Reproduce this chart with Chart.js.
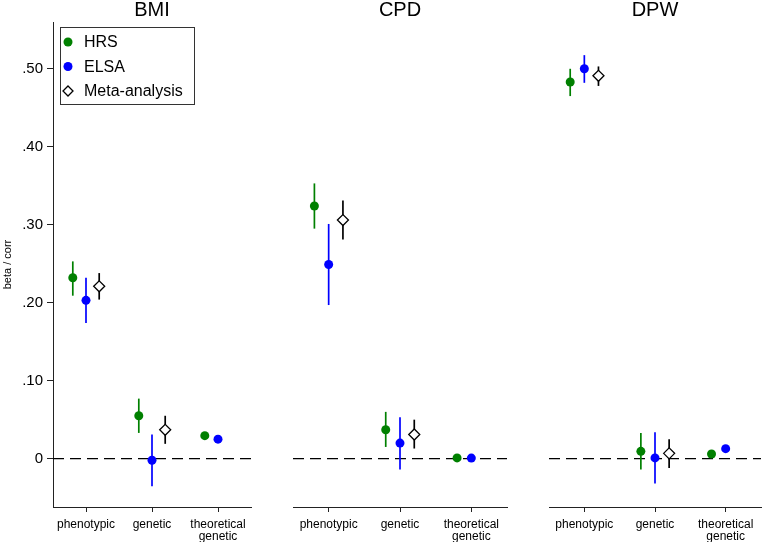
<!DOCTYPE html>
<html>
<head>
<meta charset="utf-8">
<script src="https://cdn.jsdelivr.net/npm/chart.js@4/dist/chart.umd.min.js"></script>
<style>
  body { margin: 0; background: #fff; }
  canvas { position: absolute; top: 0; }
</style>
</head>
<body>
<canvas id="bmi" width="262" height="542" style="left:0px"></canvas>
<canvas id="cpd" width="250" height="542" style="left:272px"></canvas>
<canvas id="dpw" width="230" height="542" style="left:532px"></canvas>
<script>
// tick labels on the x axis of every panel
const tickLabels = ["phenotypic", "genetic", ["theoretical", "genetic"]];
const yTicks = [0, 0.1, 0.2, 0.3, 0.4, 0.5];
const seriesNames = ["HRS", "ELSA", "Meta-analysis"];

// each row: [estimate, lower CI, upper CI] for phenotypic, genetic, theoretical genetic
const bmiHRS  = [[0.232, 0.209, 0.253], [0.055, 0.033, 0.077], [0.0295, null, null]];
const bmiELSA = [[0.203, 0.174, 0.232], [-0.002, -0.0355, 0.031], [0.025, null, null]];
const bmiMeta = [[0.221, 0.204, 0.238], [0.037, 0.019, 0.055], null];

const cpdHRS  = [[0.324, 0.295, 0.353], [0.037, 0.015, 0.060], [0.001, null, null]];
const cpdELSA = [[0.249, 0.197, 0.301], [0.020, -0.014, 0.053], [0.0007, null, null]];
const cpdMeta = [[0.306, 0.281, 0.331], [0.031, 0.013, 0.050], null];

const dpwHRS  = [[0.483, 0.465, 0.500], [0.0094, -0.014, 0.033], [0.006, null, null]];
const dpwELSA = [[0.500, 0.482, 0.5175], [0.001, -0.032, 0.034], [0.0128, null, null]];
const dpwMeta = [[0.491, 0.478, 0.503], [0.0068, -0.012, 0.025], null];

Chart.defaults.font.family = "'Liberation Sans', Arial, sans-serif";
Chart.defaults.color = "#000";

const colors = ["#008000", "#0000ff", "#000000"];
const shifts = [-0.2, 0, 0.2];

function toPoints(rows, shift) {
  const pts = [];
  rows.forEach((r, i) => {
    if (r && r[0] != null) pts.push({ x: i + 0.5 + shift, y: r[0], lo: r[1], hi: r[2] });
  });
  return pts;
}

// dashed zero line + confidence intervals, drawn under the markers
const errorBars = {
  id: "errorBars",
  beforeDatasetsDraw(chart) {
    const { ctx, chartArea, scales } = chart;
    const y0 = scales.y.getPixelForValue(0);
    ctx.save();
    ctx.strokeStyle = "#000";
    ctx.lineWidth = 1.3;
    ctx.setLineDash([11, 6]);
    ctx.beginPath();
    ctx.moveTo(chartArea.left, y0);
    ctx.lineTo(chartArea.right, y0);
    ctx.stroke();
    ctx.setLineDash([]);
    chart.data.datasets.forEach((ds) => {
      ctx.strokeStyle = ds.barColor;
      ctx.lineWidth = 1.7;
      ds.data.forEach((p) => {
        if (p.lo == null) return;
        const x = scales.x.getPixelForValue(p.x);
        ctx.beginPath();
        ctx.moveTo(x, scales.y.getPixelForValue(p.lo));
        ctx.lineTo(x, scales.y.getPixelForValue(p.hi));
        ctx.stroke();
      });
    });
    ctx.restore();
  }
};

// boxed legend inside the first panel
const boxLegend = {
  id: "boxLegend",
  afterDraw(chart) {
    const { ctx, chartArea } = chart;
    const left = chartArea.left + 7, top = chartArea.top + 5;
    ctx.save();
    ctx.strokeStyle = "#333";
    ctx.lineWidth = 1;
    ctx.strokeRect(left + 0.5, top + 0.5, 134, 77);
    ctx.font = "16px 'Liberation Sans', Arial, sans-serif";
    ctx.textBaseline = "middle";
    chart.data.datasets.forEach((ds, i) => {
      const y = top + 15 + i * 24.5;
      const x = left + 8;
      ctx.beginPath();
      if (ds.pointStyle === "rectRot") {
        ctx.moveTo(x, y - 5); ctx.lineTo(x + 5, y); ctx.lineTo(x, y + 5); ctx.lineTo(x - 5, y); ctx.closePath();
        ctx.fillStyle = "#fff"; ctx.fill();
        ctx.strokeStyle = "#000"; ctx.lineWidth = 1.3; ctx.stroke();
      } else {
        ctx.arc(x, y, 4.5, 0, Math.PI * 2);
        ctx.fillStyle = ds.backgroundColor; ctx.fill();
      }
      ctx.fillStyle = "#000";
      ctx.fillText(ds.label, left + 24, y + 1);
    });
    ctx.restore();
  }
};

function makePanel(id, title, series, showY, padLeft, padRight) {
  const datasets = series.map((rows, i) => ({
    label: seriesNames[i],
    data: toPoints(rows, shifts[i]),
    barColor: colors[i],
    backgroundColor: i === 2 ? "#fff" : colors[i],
    borderColor: colors[i],
    borderWidth: i === 2 ? 1.3 : 0,
    pointStyle: i === 2 ? "rectRot" : "circle",
    pointRadius: i === 2 ? 5.5 : 4.5
  }));

  return new Chart(document.getElementById(id), {
    type: "scatter",
    data: { datasets: datasets },
    plugins: showY ? [errorBars, boxLegend] : [errorBars],
    options: {
      responsive: false,
      animation: false,
      layout: { autoPadding: false, padding: { left: padLeft, right: padRight, top: 0, bottom: 0 } },
      plugins: {
        legend: { display: false },
        tooltip: { enabled: false },
        title: {
          display: true,
          text: title,
          fullSize: false,
          font: { size: 20, weight: "normal", lineHeight: 1 },
          padding: { top: 0, bottom: 2 },
          color: "#000"
        }
      },
      scales: {
        x: {
          type: "linear",
          min: 0,
          max: 3,
          afterBuildTicks: (s) => { s.ticks = [0.5, 1.5, 2.5].map((v) => ({ value: v })); },
          afterFit: (s) => { s.height = 35; },
          grid: { display: true, drawOnChartArea: false, drawTicks: true, tickLength: 5, color: "#222" },
          border: { display: true, color: "#222", width: 1 },
          ticks: {
            autoSkip: false,
            maxRotation: 0,
            padding: 6,
            font: { size: 12, lineHeight: 1.05 },
            callback: (v, i) => tickLabels[i]
          }
        },
        y: {
          display: showY,
          min: -0.062,
          max: 0.56,
          afterBuildTicks: (s) => { s.ticks = yTicks.map((v) => ({ value: v })); },
          afterFit: (s) => { s.width = showY ? 53 : 0; },
          grid: { display: true, drawOnChartArea: false, drawTicks: true, tickLength: 6, color: "#222" },
          border: { display: true, color: "#222", width: 1 },
          title: { display: true, text: "beta / corr", font: { size: 11, lineHeight: 1.2 }, padding: 1 },
          ticks: {
            padding: 4,
            font: { size: 15 },
            callback: (v) => (v === 0 ? "0" : v.toFixed(2).replace("0.", "."))
          }
        }
      }
    }
  });
}

makePanel("bmi", "BMI", [bmiHRS, bmiELSA, bmiMeta], true, 0, 11);
makePanel("cpd", "CPD", [cpdHRS, cpdELSA, cpdMeta], false, 21, 15);
makePanel("dpw", "DPW", [dpwHRS, dpwELSA, dpwMeta], false, 17, 1);
</script>
</body>
</html>
